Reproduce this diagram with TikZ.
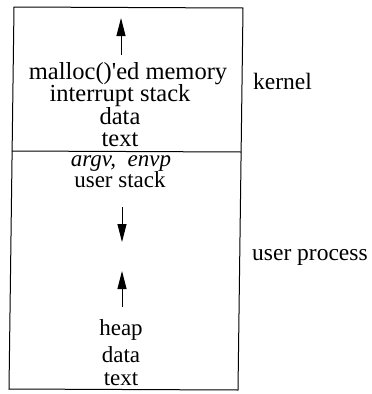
\documentclass[tikz,border=0pt]{standalone}
\usepackage{fontspec}
\setmainfont{Liberation Serif}
\usetikzlibrary{arrows.meta}
\begin{document}
\begin{tikzpicture}[x=1pt,y=-1pt,
  kt/.style={anchor=base,inner sep=0pt,text height=0.68em,text depth=0.2em,font=\fontsize{24.5}{26}\selectfont},
  ut/.style={anchor=base,inner sep=0pt,text height=0.68em,text depth=0.2em,font=\fontsize{23}{25}\selectfont},
  nodesc/.style={text depth=0pt},
  side/.style={anchor=base west,inner sep=0pt,font=\fontsize{23.5}{25}\selectfont},
  frame/.style={line width=1pt},
  growarrow/.style={line width=1pt,-{Triangle[length=18pt,width=9pt]}}]
\useasboundingbox (0,0) rectangle (372,394);
\draw[frame] (14,7) -- (243,8) -- (238,390) -- (9,389) -- cycle;
\draw[frame] (12,151) -- (241,152);
% kernel part
\coordinate (a1s) at (121,55);
\coordinate (a1e) at (121,18);
\draw[growarrow] (a1s) -- (a1e);
\node[kt] (malloc) at (128,79) {malloc()\textquotesingle ed memory};
\node[kt] (intr) at (120,101.5) {interrupt stack};
\node[kt,nodesc] (kdata) at (120,124) {data};
\node[kt,nodesc] (ktext) at (120,146) {text};
% user part
\node[ut] (argv) at (121,166) {\itshape argv,\ \ envp};
\node[ut] (ustack) at (120,187.5) {user stack};
\coordinate (a2s) at (122,207);
\coordinate (a2e) at (122,242);
\draw[growarrow] (a2s) -- (a2e);
\coordinate (a3s) at (122,307);
\coordinate (a3e) at (122,271);
\draw[growarrow] (a3s) -- (a3e);
\node[ut] (heap) at (121,335) {heap};
\node[ut,nodesc] (udata) at (121,362) {data};
\node[ut,nodesc] (utext) at (121,385) {text};
% side labels
\node[side] (kernel) at (253,89) {kernel};
\node[side] (uproc) at (252,260) {user process};
\end{tikzpicture}
\end{document}
